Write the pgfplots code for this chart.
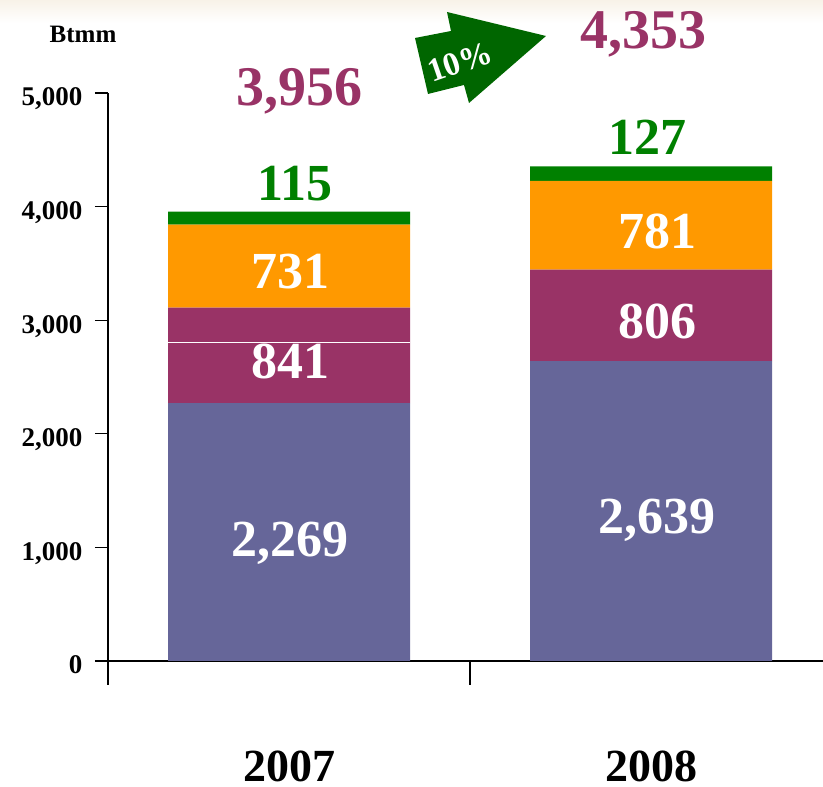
\documentclass[border=0pt]{standalone}
\usepackage{fontspec}
\setmainfont{Liberation Serif}
\usepackage{pgfplots}
\pgfplotsset{compat=1.18}

\definecolor{cblue}{HTML}{666699}
\definecolor{cmaroon}{HTML}{993366}
\definecolor{corange}{HTML}{FF9900}
\definecolor{cgreen}{HTML}{008000}
\definecolor{carrow}{HTML}{006600}

\newcommand{\fs}[1]{\fontsize{#1}{#1}\selectfont\bfseries}

\begin{document}
\begin{tikzpicture}[x=1pt,y=1pt]
\path[use as bounding box] (0,0) rectangle (823,787);
\shade[top color={rgb,255:red,248;green,242;blue,232}, bottom color=white] (0,764) rectangle (823,787);
\begin{axis}[
  at={(108pt,126pt)}, anchor=south west,
  scale only axis, width=715pt, height=568pt,
  xmin=-0.5, xmax=1.475, ymin=0, ymax=5000,
  clip=false,
  axis lines=left, axis line style={line width=1.2pt, -},
  tick align=outside,
  tick style={black, line width=1.2pt},
  major tick length=13pt, minor tick length=24pt,
  ytick={0,1000,2000,3000,4000,5000},
  yticklabels={0,{1,000},{2,000},{3,000},{4,000},{5,000}},
  yticklabel style={font=\fs{27}, anchor=base east, xshift=-9pt, yshift=-13pt},
  xtick={0,1}, xticklabels={2007,2008},
  major x tick style={draw=none},
  minor xtick={-0.5,0.5},
  xticklabel style={font=\fs{46}, anchor=base, yshift=-108pt},
  ybar stacked, bar width=242pt, bar shift=0pt,
]
\addplot[fill=cblue, draw=none] coordinates {(0,2269) (1,2639)};
\addplot[fill=cmaroon, draw=none] coordinates {(0,841) (1,806)};
\addplot[fill=corange, draw=none] coordinates {(0,731) (1,781)};
\addplot[fill=cgreen, draw=none] coordinates {(0,115) (1,127)};

% anchor points for labels, drawn after the axis so they sit on top of the bars
\coordinate (wl) at (axis cs:-0.334,2808);
\coordinate (wr) at (axis cs:0.334,2808);
\coordinate (a1) at (axis cs:0.003,924);
\coordinate (a2) at (axis cs:0.003,2491);
\coordinate (a3) at (axis cs:0.003,3275);
\coordinate (a4) at (axis cs:0.017,4058);
\coordinate (a5) at (axis cs:0.03,4894);
\coordinate (b1) at (axis cs:1.017,1118);
\coordinate (b2) at (axis cs:1.017,2835);
\coordinate (b3) at (axis cs:1.017,3627);
\coordinate (b4) at (axis cs:0.99,4463);
\coordinate (b5) at (axis cs:0.98,5396);
\end{axis}
\draw[white, line width=1pt] (wl) -- (wr);
\node[text=white, font=\fs{52}, anchor=base] at (a1) {2,269};
\node[text=white, font=\fs{52}, anchor=base] at (a2) {841};
\node[text=white, font=\fs{52}, anchor=base] at (a3) {731};
\node[text=cgreen, font=\fs{52}, anchor=base] at (a4) {115};
\node[text=cmaroon, font=\fs{56}, anchor=base] at (a5) {3,956};
\node[text=white, font=\fs{52}, anchor=base] at (b1) {2,639};
\node[text=white, font=\fs{52}, anchor=base] at (b2) {806};
\node[text=white, font=\fs{52}, anchor=base] at (b3) {781};
\node[text=cgreen, font=\fs{52}, anchor=base] at (b4) {127};
\node[text=cmaroon, font=\fs{56}, anchor=base] at (b5) {4,353};

\node[font=\fs{25}, anchor=base] at (83,744) {Btmm};
\fill[carrow] (415,749) -- (451,756) -- (447,775) -- (546,751) -- (469,684) -- (464,702) -- (428,693) -- cycle;
\node[text=white, font=\fs{33}, rotate=19, inner sep=0pt] at (460,725) {10\%};
\end{tikzpicture}
\end{document}
